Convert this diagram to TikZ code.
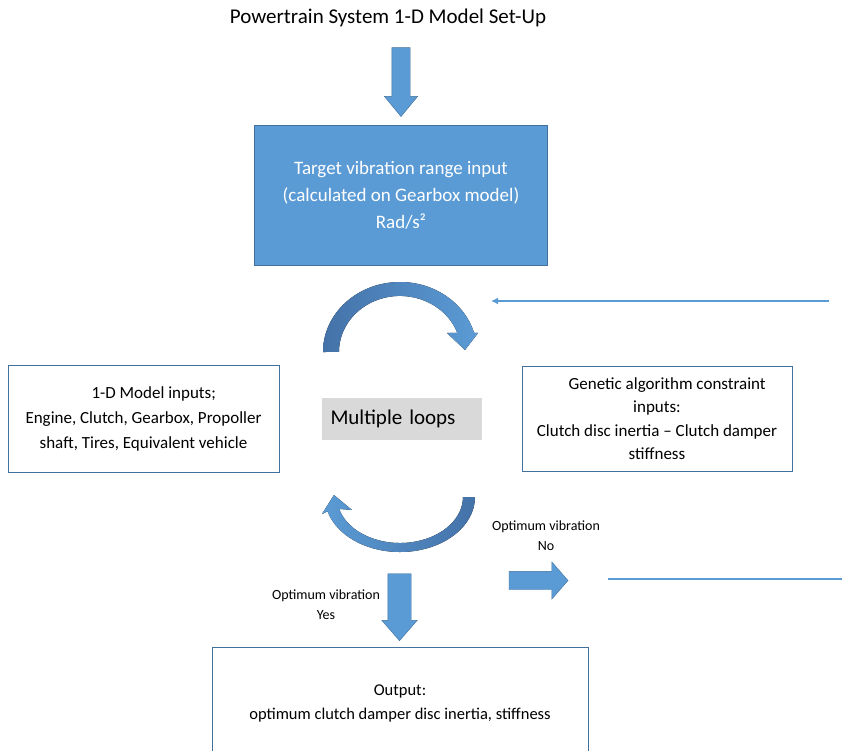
\documentclass[tikz,border=0pt]{standalone}
\usepackage{fontspec}
\setmainfont{Carlito}
\usepackage{tikz}
\usetikzlibrary{positioning,shapes.arrows,arrows.meta}
\definecolor{boxblue}{HTML}{5B9BD5}
\definecolor{edgeblue}{HTML}{41719C}
\definecolor{arcdark}{HTML}{4472A8}
\definecolor{loopgray}{HTML}{D9D9D9}
\tikzset{
  inputbox/.style={draw=edgeblue, line width=0.8pt, align=center},
  fatarrow/.style={single arrow, fill=boxblue, draw=edgeblue, line width=0.4pt, inner xsep=0pt},
  thinarrow/.style={boxblue, line width=1.6pt},
  note/.style={align=center, font=\fontsize{14}{20}\selectfont}
}

\begin{document}
\begin{tikzpicture}[x=1pt,y=1pt]
  \useasboundingbox (0,0) rectangle (842,-750);

  \node[font=\fontsize{21}{25}\selectfont] (setup) at (388,-18) {Powertrain System 1-D Model Set-Up}; %
  \node[fatarrow, rotate=-90, minimum height=69pt, inner ysep=9pt,
        single arrow head extend=7.5pt, single arrow tip angle=79] (setup-arr) at (401,-76.5) {}; %
  \node[draw=edgeblue, fill=boxblue, text=white, align=center, minimum width=293pt, minimum height=140pt,
        font=\fontsize{19}{27}\selectfont] (target) at (401,-195)
        {Target vibration range input\\(calculated on Gearbox model)\\Rad/s²}; %

  % loop arrows
  \fill[left color=arcdark, right color=boxblue] (323,-352)
    arc[start angle=180, end angle=16, x radius=77, y radius=70]
    -- (478,-333) -- (465,-350) -- (447,-333) -- (457.3,-332.8)
    arc[start angle=20, end angle=180, x radius=61, y radius=56] -- cycle;
  \fill[left color=boxblue, right color=arcdark] (475,-497)
    arc[start angle=0, end angle=-165, x radius=75, y radius=55]
    -- (322,-514) -- (334,-495) -- (352,-510) -- (339.1,-508.9)
    arc[start angle=-165, end angle=0, x radius=63, y radius=46] -- cycle;

  \node[fill=loopgray, text width=142pt, align=left, inner xsep=9pt, minimum height=42pt,
        font=\fontsize{21}{25}\selectfont] (loops) at (401.5,-419) {Multiple loops}; %
  \node[inputbox, minimum width=271pt, minimum height=107pt, font=\fontsize{17}{25}\selectfont]
        (model-in) at (143.5,-418.5)
        {\hspace*{1.2em}1-D Model inputs;\\Engine, Clutch, Gearbox, Propoller\\shaft, Tires, Equivalent vehicle}; %
  \node[inputbox, minimum width=270pt, minimum height=105pt, font=\fontsize{17}{23.5}\selectfont]
        (ga-in) at (657,-418.5)
        {\hspace*{1.2em}Genetic algorithm constraint\\inputs:\\Clutch disc inertia -- Clutch damper\\stiffness}; %

  % feedback from the GA side
  \coordinate (fb-start) at (829,-301);
  \coordinate (fb-end) at (491,-301);
  \draw[thinarrow, -{Latex[length=7pt,width=7pt]}] (fb-start) -- (fb-end);

  \node[note] (no-lab) at (546,-535.5) {Optimum vibration\\No}; %
  \node[fatarrow, minimum height=59pt, inner ysep=9pt,
        single arrow head extend=9.5pt, single arrow tip angle=98] (no-arr) at (534.5,-580.5) {}; %
  \coordinate (no-start) at (608,-579);
  \coordinate (no-end) at (842,-579);
  \draw[thinarrow] (no-start) -- (no-end);

  \node[note] (yes-lab) at (326,-605) {Optimum vibration\\Yes}; %
  \node[fatarrow, rotate=-90, minimum height=67pt, inner ysep=11.5pt,
        single arrow head extend=6pt, single arrow tip angle=82] (yes-arr) at (399.5,-600.5) {}; %
  \node[inputbox, minimum width=376pt, minimum height=112pt, font=\fontsize{16.5}{24}\selectfont]
        (output) at (400,-703) {Output:\\optimum clutch damper disc inertia, stiffness}; %
\end{tikzpicture}
\end{document}
